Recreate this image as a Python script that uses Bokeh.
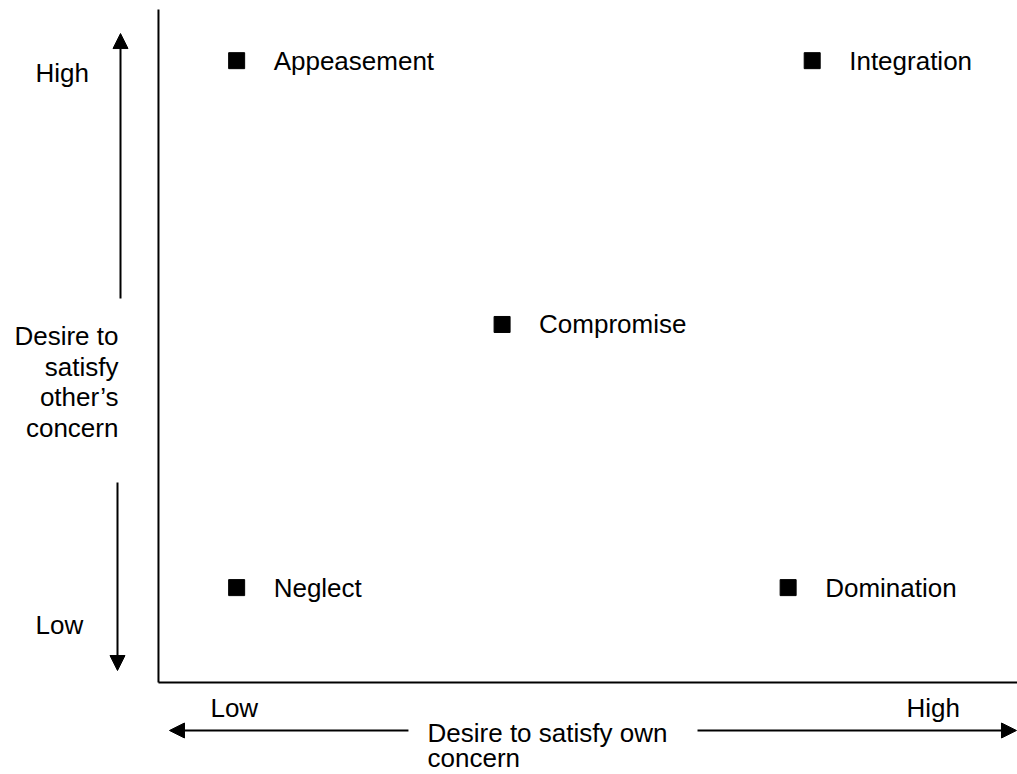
from bokeh.plotting import figure
from bokeh.models import Range1d, ColumnDataSource, Arrow, NormalHead
from bokeh.core.properties import value
from bokeh.embed import file_html
from bokeh.resources import INLINE

# ---- data (scores in % of each axis length) ----
styles = ["Appeasement", "Integration", "Compromise", "Neglect", "Domination"]
own_concern = [9.1, 76.1, 40.0, 9.1, 73.3]        # x: desire to satisfy own concern
other_concern = [92.4, 92.4, 53.2, 14.1, 14.1]    # y: desire to satisfy other's concern

y_axis_lines = ["Desire to", "satisfy", "other\u2019s", "concern"]
x_axis_lines = ["Desire to satisfy own", "concern"]
level_labels = ["Low", "High"]

FONT = value("Liberation Sans")
FS = "26px"

p = figure(width=1017, height=774,
           x_range=Range1d(-18.39, 100.0), y_range=Range1d(-13.67, 101.34),
           x_axis_type=None, y_axis_type=None,
           min_border=0, toolbar_location=None, output_backend="svg")
p.grid.visible = False
p.outline_line_color = None
p.background_fill_color = "white"
p.border_fill_color = "white"

# axes lines (origin at 0,0)
p.segment(x0=[0, 0], y0=[0, 0], x1=[0, 101], y1=[100.0, 0],
          line_color="black", line_width=2)

# data points
src = ColumnDataSource(dict(x=own_concern, y=other_concern, name=styles))
p.scatter("x", "y", source=src, marker="square", size=16,
          fill_color="black", line_color="black")
p.text("x", "y", text="name", source=src, x_offset=37, y_offset=0,
       text_font=FONT, text_font_size=FS, text_color="black",
       text_align="left", text_baseline="middle")

def head():
    return NormalHead(size=15, fill_color="black", line_color="black", line_width=1)

# vertical (other's concern) arrows
p.add_layout(Arrow(end=head(), x_start=-4.42, y_start=57.06, x_end=-4.42, y_end=96.43,
                   line_width=2, line_color="black"))
p.add_layout(Arrow(end=head(), x_start=-4.77, y_start=29.72, x_end=-4.77, y_end=1.78,
                   line_width=2, line_color="black"))
# horizontal (own concern) arrows
p.add_layout(Arrow(end=head(), x_start=29.10, y_start=-7.13, x_end=1.28, y_end=-7.13,
                   line_width=2, line_color="black"))
p.add_layout(Arrow(end=head(), x_start=62.75, y_start=-7.13, x_end=99.88, y_end=-7.13,
                   line_width=2, line_color="black"))

# Low / High labels
p.text(x=[-14.32, -14.32], y=[8.54, 90.64], text=level_labels,
       text_font=FONT, text_font_size=FS, text_color="black",
       text_align="left", text_baseline="middle")
p.text(x=[6.05, 87.08], y=[-3.79, -3.79], text=level_labels,
       text_font=FONT, text_font_size=FS, text_color="black",
       text_align="left", text_baseline="middle")

# axis titles
p.text(x=[-4.66] * 4, y=[51.46, 46.85, 42.39, 37.79], text=y_axis_lines,
       text_font=FONT, text_font_size=FS, text_color="black",
       text_align="right", text_baseline="middle")
p.text(x=[31.32, 31.32], y=[-7.43, -11.29], text=x_axis_lines,
       text_font=FONT, text_font_size=FS, text_color="black",
       text_align="left", text_baseline="middle")

open("out.html", "w").write(file_html(p, INLINE))
